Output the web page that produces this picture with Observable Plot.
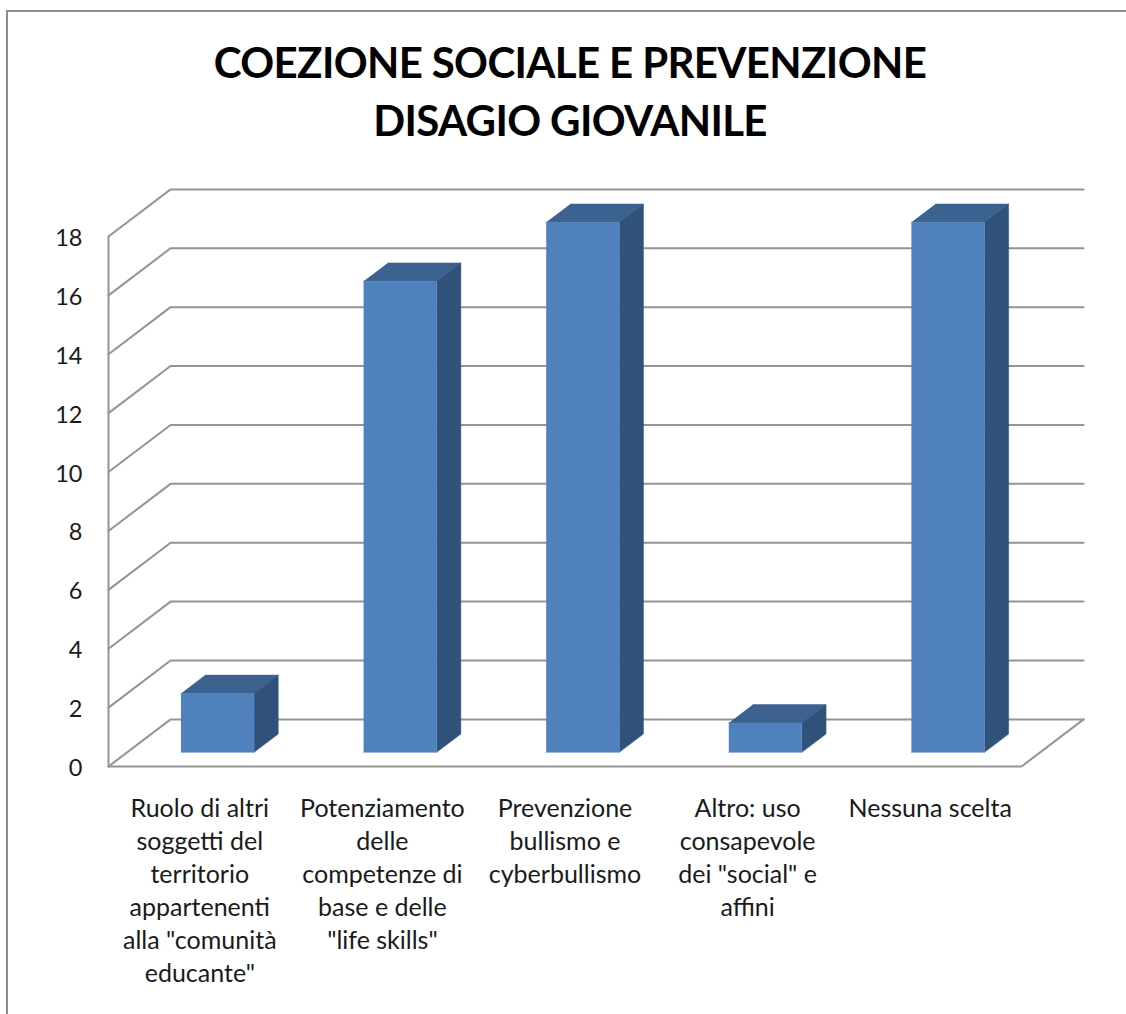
<!DOCTYPE html>
<html><head><meta charset="utf-8">
<script src="https://cdn.jsdelivr.net/npm/d3@7"></script>
<script src="https://cdn.jsdelivr.net/npm/@observablehq/plot@0.6"></script>
<style>
html,body{margin:0;padding:0;background:#fff;overflow:hidden}
#wrap{position:relative;width:1126px;height:1014px;overflow:hidden;font-family:Lato,sans-serif;color:#000}
#frame{position:absolute;left:6px;top:10px;width:1130px;height:1014px;border-left:2px solid #8c8c8c;border-top:2px solid #8c8c8c;box-sizing:border-box}
#title{position:absolute;left:0;top:0;width:1140px;height:170px;margin:0;padding-top:33px;box-sizing:border-box;text-align:center;font:700 42px/58px Lato,sans-serif;letter-spacing:-.65px}
#chart{position:absolute;left:0;top:170px}
svg{display:block;background:transparent}
</style></head>
<body><div id="wrap"><div id="frame"></div>
<h1 id="title">COEZIONE SOCIALE E PREVENZIONE<br>DISAGIO GIOVANILE</h1>
<div id="chart"></div></div>
<script>
const categories = [
  "Ruolo di altri\nsoggetti del\nterritorio\nappartenenti\nalla \"comunità\neducante\"",
  "Potenziamento\ndelle\ncompetenze di\nbase e delle\n\"life skills\"",
  "Prevenzione\nbullismo e\ncyberbullismo",
  "Altro: uso\nconsapevole\ndei \"social\" e\naffini",
  "Nessuna scelta"
];
const values = [2, 16, 18, 1, 18];
const yTicks = [0, 2, 4, 6, 8, 10, 12, 14, 16, 18];

// Oblique projection of the 3D chart box: depth z in [0,1] shifts in data units
const depthX = 0.34, depthY = 1.6;
const px = (cat, z) => cat + depthX * z;
const py = (v, z) => v + depthY * z;
const barStart = 0.295, barEnd = 0.695, zFront = 0.3, zBack = 0.69;
const nCat = categories.length;

const pt = (id, cat, v, z) => ({id, x: px(cat, z), y: py(v, z)});
const grid = yTicks.flatMap(v => [pt(v, 0, v, 0), pt(v, 0, v, 1), pt(v, nCat, v, 1)]);
const floorEdge = [pt("f", 0, 0, 0), pt("f", nCat, 0, 0), pt("f", nCat, 0, 1)];
const wallEdge = [pt("w", 0, 0, 0), pt("w", 0, 18, 0)];

const frontFaces = [], topFaces = [], sideFaces = [];
values.forEach((v, i) => {
  const a = i + barStart, b = i + barEnd;
  frontFaces.push(pt(i, a, 0, zFront), pt(i, b, 0, zFront), pt(i, b, v, zFront), pt(i, a, v, zFront));
  topFaces.push(pt(i, a, v, zFront), pt(i, b, v, zFront), pt(i, b, v, zBack), pt(i, a, v, zBack));
  sideFaces.push(pt(i, b, 0, zFront), pt(i, b, 0, zBack), pt(i, b, v, zBack), pt(i, b, v, zFront));
});

const gridColor = "#949494";
const face = (data, color) => Plot.line(data, {x: "x", y: "y", z: "id", fill: color, stroke: color, strokeWidth: 0.5, strokeLinejoin: "round"});

const chart = Plot.plot({
  width: 1126, height: 844,
  marginLeft: 108, marginRight: 105, marginTop: 66, marginBottom: 248,
  style: {background: "transparent", fontFamily: "Lato, sans-serif", overflow: "visible"},
  x: {type: "linear", domain: [0, nCat], axis: null},
  y: {type: "linear", domain: [0, 18], axis: null},
  marks: [
    Plot.line(grid, {x: "x", y: "y", z: "id", stroke: gridColor, strokeWidth: 2}),
    Plot.line(floorEdge, {x: "x", y: "y", z: "id", stroke: gridColor, strokeWidth: 2}),
    Plot.line(wallEdge, {x: "x", y: "y", z: "id", stroke: gridColor, strokeWidth: 2}),
    face(topFaces, "#3c6290"),
    face(sideFaces, "#30527a"),
    face(frontFaces, "#4f81bd"),
    Plot.text(yTicks, {x: 0, y: d => d, text: d => String(d), textAnchor: "end", dx: -26, dy: 2, fontSize: 23.5, fill: "#1a1a1a"}),
    Plot.text(categories, {x: (d, i) => i + 0.5, y: 0, text: d => d, lineAnchor: "top", dy: 27, lineHeight: 1.32, fontSize: 25, fill: "#1a1a1a", textAnchor: "middle"})
  ]
});
document.getElementById("chart").appendChild(chart);
</script></body></html>
